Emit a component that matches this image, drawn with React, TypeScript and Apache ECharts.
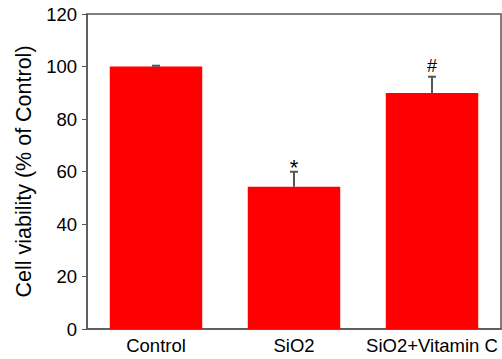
import React, { useEffect, useRef } from "react";
import * as echarts from "echarts";

const categories = ["Control", "SiO2", "SiO2+Vitamin C"];
const means = [100, 54.2, 89.9];
const errors = [0.3, 5.7, 6.2];
const marks = ["", "*", "#"];
const yTicks = { min: 0, max: 120, interval: 20 };

const FONT = "'Liberation Sans', Arial, Helvetica, sans-serif";
const AXIS = "#555";

export default function App() {
  const ref = useRef<HTMLDivElement>(null);
  useEffect(() => {
    if (!ref.current) return;
    const chart = echarts.init(ref.current, null, { renderer: "svg" });
    const errData = means.map((m, i) => [i, m, errors[i]]);
    chart.setOption({
      animation: false,
      grid: {
        left: 87,
        right: 1,
        top: 14,
        bottom: 30,
        show: true,
        borderColor: AXIS,
        borderWidth: 1.5,
        backgroundColor: "transparent",
      },
      xAxis: {
        type: "category",
        data: categories,
        axisLine: { show: true, lineStyle: { color: AXIS, width: 1.5 } },
        axisTick: { show: false },
        axisLabel: { color: "#000", fontFamily: FONT, fontSize: 18.5, margin: 7, interval: 0 },
      },
      yAxis: {
        type: "value",
        min: yTicks.min,
        max: yTicks.max,
        interval: yTicks.interval,
        name: "Cell viability (% of Control)",
        nameLocation: "middle",
        nameGap: 49,
        nameTextStyle: { color: "#000", fontFamily: FONT, fontSize: 21.5 },
        splitLine: { show: false },
        axisLine: { show: true, lineStyle: { color: AXIS, width: 1.5 } },
        axisTick: { show: true, inside: false, length: 5, lineStyle: { color: AXIS, width: 1 } },
        axisLabel: { color: "#000", fontFamily: FONT, fontSize: 18.5, margin: 10 },
      },
      series: [
        {
          type: "bar",
          data: means,
          barWidth: "67%",
          itemStyle: { color: "#ff0000" },
        },
        {
          type: "custom",
          data: errData,
          z: 10,
          renderItem: (params: any, api: any) => {
            const x = api.value(0);
            const v = api.value(1);
            const e = api.value(2);
            const mark = marks[params.dataIndex];
            const base = api.coord([x, v]);
            const top = api.coord([x, v + e]);
            const cap = 4;
            const style = { stroke: AXIS, lineWidth: 2 };
            const children: any[] = [
              { type: "line", shape: { x1: top[0], y1: base[1], x2: top[0], y2: top[1] }, style },
              { type: "line", shape: { x1: top[0] - cap, y1: top[1], x2: top[0] + cap, y2: top[1] }, style },
            ];
            if (mark) {
              const isStar = mark === "*";
              children.push({
                type: "text",
                x: top[0],
                y: isStar ? top[1] + 7 : top[1] - 2,
                style: {
                  text: mark,
                  fill: "#000",
                  font: `${isStar ? 22 : 18}px ${FONT}`,
                  textAlign: "center",
                  textVerticalAlign: "bottom",
                },
              });
            }
            return { type: "group", children };
          },
        },
      ],
    });
    return () => chart.dispose();
  }, []);
  return (
    <div
      ref={ref}
      style={{ position: "fixed", left: 0, top: 0, width: 502, height: 359, background: "#fff" }}
    />
  );
}
